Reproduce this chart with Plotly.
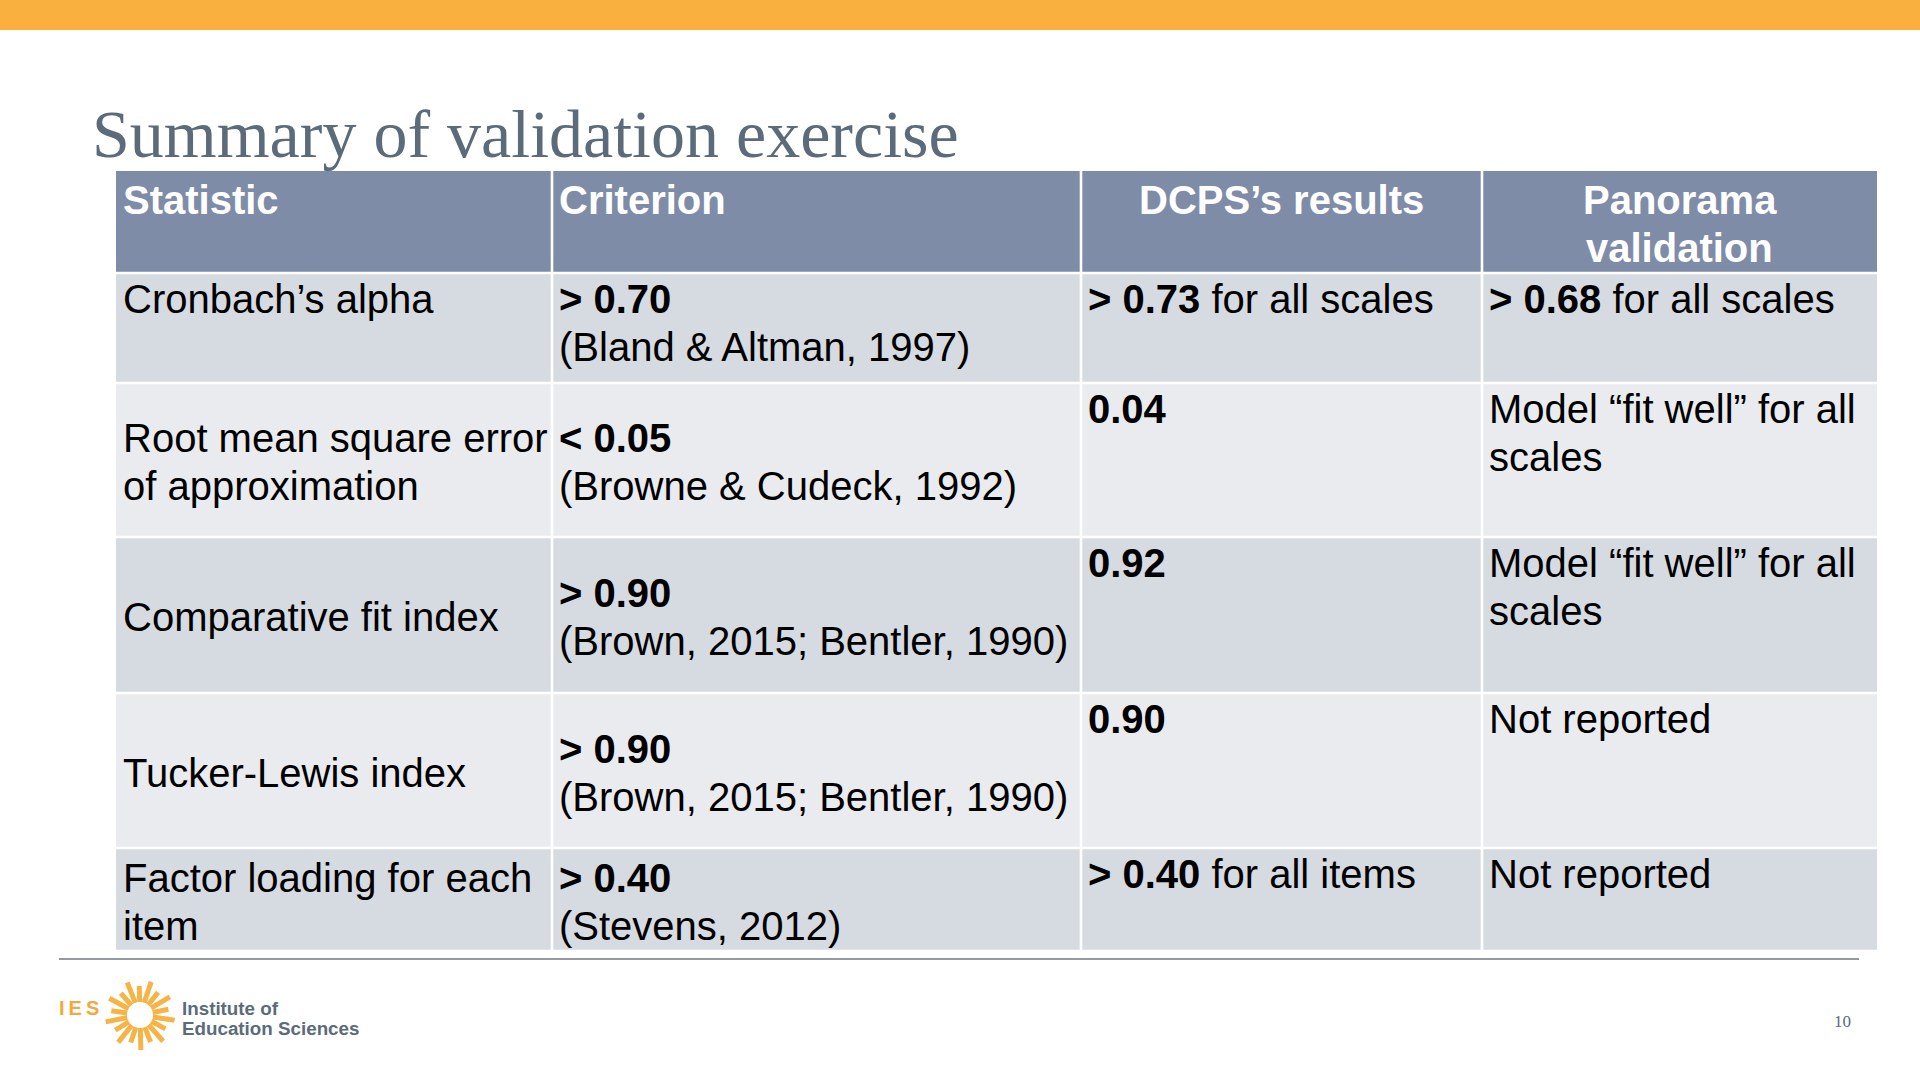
import math
import plotly.graph_objects as go

# ---------------- data ----------------
title_text = "Summary of validation exercise"
headers = ["Statistic", "Criterion", "DCPS’s results", "Panorama<br>validation"]
header_align = ["left", "left", "center", "center"]
statistics = [
    "Cronbach’s alpha",
    "Root mean square error<br>of approximation",
    "Comparative fit index",
    "Tucker-Lewis index",
    "Factor loading for each<br>item",
]
thresholds = ["&gt; 0.70", "&lt; 0.05", "&gt; 0.90", "&gt; 0.90", "&gt; 0.40"]
citations = [
    "(Bland &amp; Altman, 1997)",
    "(Browne &amp; Cudeck, 1992)",
    "(Brown, 2015; Bentler, 1990)",
    "(Brown, 2015; Bentler, 1990)",
    "(Stevens, 2012)",
]
dcps_values = ["&gt; 0.73", "0.04", "0.92", "0.90", "&gt; 0.40"]
dcps_suffix = [" for all scales", "", "", "", " for all items"]
panorama = [
    "<b>&gt; 0.68</b> for all scales",
    "Model “fit well” for all<br>scales",
    "Model “fit well” for all<br>scales",
    "Not reported",
    "Not reported",
]
row_valign = ["top", "middle", "middle", "middle", "middle"]
logo_lines = ["Institute of", "Education Sciences"]
logo_mark = "I\u2009E\u2009S"
page_number = "10"

# ---------------- layout / style ----------------
W, H = 1920, 1080
col_edges = [116, 552, 1081, 1482, 1877]
row_edges = [171, 273, 383, 537, 693, 848, 951]
header_fill = "#7F8CA7"
row_fills = ["#D6DAE1", "#E9EBEF", "#D6DAE1", "#E9EBEF", "#D6DAE1"]
body_font = "Liberation Sans, Arial, sans-serif"
serif_font = "Liberation Serif, Times New Roman, serif"
fs = 40
line_step = 47.8
pad_x = 4.5
text_color = "#000000"
slate = "#5B6B79"
orange = "#F9B03F"

shapes = []
annotations = []

# orange top bar
shapes.append(dict(type="rect", x0=0, x1=W, y0=0, y1=30, fillcolor=orange, line_width=0, layer="below"))

# table cells
gap = 1.3
for r in range(len(row_edges) - 1):
    fill = header_fill if r == 0 else row_fills[r - 1]
    for c in range(len(col_edges) - 1):
        shapes.append(dict(
            type="rect",
            x0=col_edges[c] + (0 if c == 0 else gap),
            x1=col_edges[c + 1] - (0 if c == len(col_edges) - 2 else gap),
            y0=row_edges[r] + (0 if r == 0 else gap),
            y1=row_edges[r + 1] - gap,
            fillcolor=fill, line_width=0, layer="below",
        ))

# bottom rule
shapes.append(dict(type="line", x0=59, x1=1859, y0=959, y1=959, line=dict(color="#6E7780", width=1.5)))


def add_lines(text, x, first_baseline, xanchor="left", bold=False, color=text_color, size=fs, family=body_font):
    for i, ln in enumerate(text.split("<br>")):
        base = first_baseline + i * line_step
        t = f"<b>{ln}</b>" if bold else ln
        annotations.append(dict(
            x=x, y=base - 0.347 * size, xref="x", yref="y", text=t, showarrow=False,
            xanchor=xanchor, yanchor="middle", align=xanchor,
            font=dict(family=family, size=size, color=color),
        ))


def cell_text(text, c, r, valign):
    top, bot = row_edges[r], row_edges[r + 1]
    n = len(text.split("<br>"))
    if valign == "top":
        first = top + 40
    else:
        mid = (top + bot) / 2 + 16
        first = mid - (n - 1) * line_step / 2
    add_lines(text, col_edges[c] + pad_x, first)


# header
for c, h in enumerate(headers):
    if header_align[c] == "left":
        x = col_edges[c] + pad_x
    else:
        x = (col_edges[c] + col_edges[c + 1]) / 2
    add_lines(h, x, row_edges[0] + 43, xanchor=header_align[c], bold=True, color="#FFFFFF")

# body
for i in range(len(statistics)):
    r = i + 1
    cell_text(statistics[i], 0, r, row_valign[i])
    cell_text(f"<b>{thresholds[i]}</b><br>{citations[i]}", 1, r, row_valign[i])
    cell_text(f"<b>{dcps_values[i]}</b>{dcps_suffix[i]}", 2, r, "top")
    cell_text(panorama[i], 3, r, "top")

# title
annotations.append(dict(
    x=90, y=157 - 0.34 * 68, xref="x", yref="y", text=title_text, showarrow=False,
    xanchor="left", yanchor="middle", font=dict(family=serif_font, size=68, color=slate),
))

# logo: IES text
annotations.append(dict(
    x=57, y=1008, xref="x", yref="y", text=f"<b>{logo_mark}</b>", showarrow=False,
    xanchor="left", yanchor="middle", font=dict(family=body_font, size=20, color="#F4A93C"),
))
# logo: sun rays
cx, cy = 140, 1015
n_rays = 18
for k in range(n_rays):
    a = 2 * math.pi * k / n_rays + 0.15
    r_in = 13
    r_out = 35 if k % 2 == 0 else 29
    shapes.append(dict(
        type="line",
        x0=cx + r_in * math.cos(a), y0=cy + r_in * math.sin(a),
        x1=cx + r_out * math.cos(a), y1=cy + r_out * math.sin(a),
        line=dict(color="#F6B347", width=5),
    ))
# logo text
for i, ln in enumerate(logo_lines):
    annotations.append(dict(
        x=180, y=1008 + i * 20, xref="x", yref="y", text=f"<b>{ln}</b>", showarrow=False,
        xanchor="left", yanchor="middle", font=dict(family=body_font, size=18.8, color=slate),
    ))

# page number
annotations.append(dict(
    x=1842, y=1021, xref="x", yref="y", text=page_number, showarrow=False,
    xanchor="center", yanchor="middle", font=dict(family=serif_font, size=17, color=slate),
))

fig = go.Figure()
fig.update_layout(
    width=W, height=H,
    margin=dict(l=0, r=0, t=0, b=0),
    paper_bgcolor="#FFFFFF", plot_bgcolor="#FFFFFF",
    xaxis=dict(range=[0, W], visible=False, fixedrange=True),
    yaxis=dict(range=[H, 0], visible=False, fixedrange=True),
    shapes=shapes, annotations=annotations, showlegend=False,
)
fig.write_html(
    "out.html",
    config={"displayModeBar": False},
    post_script="document.body.style.margin='0';document.body.style.overflow='hidden';",
)
